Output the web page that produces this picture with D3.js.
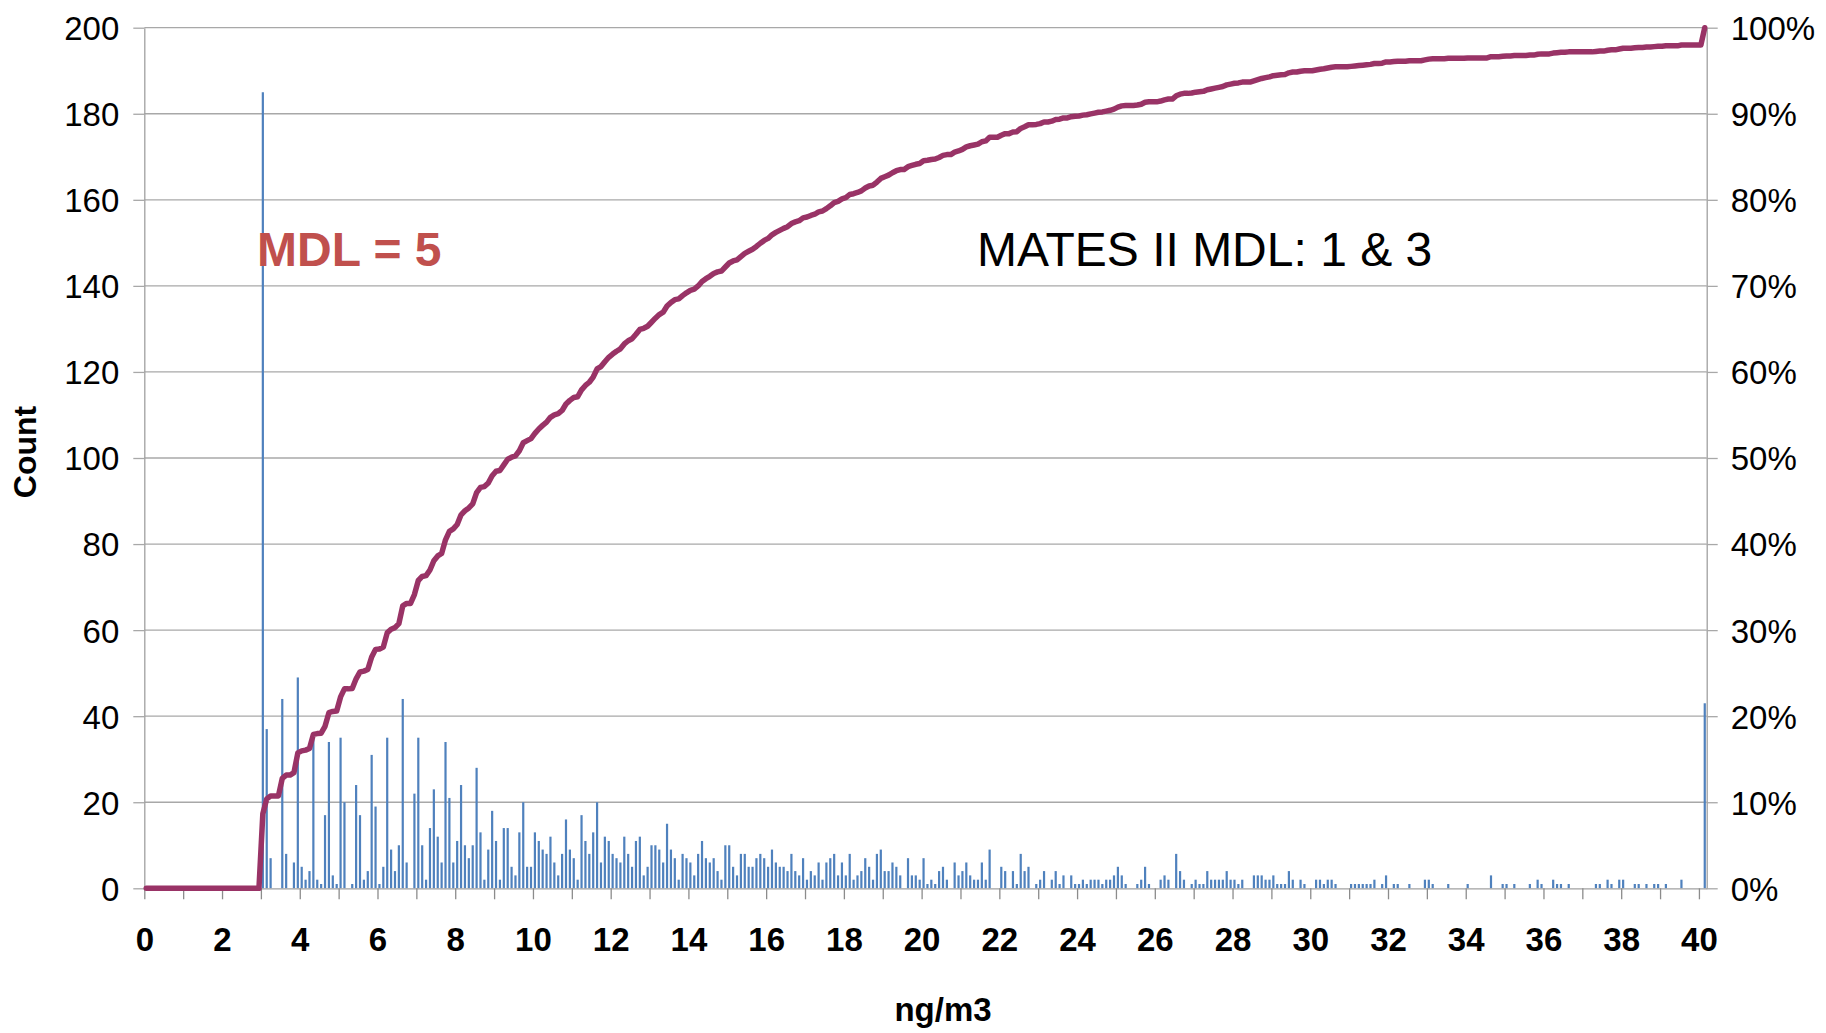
<!DOCTYPE html>
<html><head><meta charset="utf-8">
<script src="https://cdn.jsdelivr.net/npm/d3@7"></script>
<style>
body{margin:0;background:#fff}
svg{display:block}
text{font-family:"Liberation Sans",Arial,Helvetica,sans-serif}
</style>
</head><body>
<svg id="chart" width="1826" height="1033"></svg>
<script>
// Histogram bins (upper bounds, 0.1 ng/m3 wide) plus the overflow bin
const binLabels = d3.range(0, 401).map(i => (i / 10).toFixed(1)).concat(["More"]);

// Counts per bin
const counts = [
  0,0,0,0,0,0,0,0,0,0, 0,0,0,0,0,0,0,0,0,0, 0,0,0,0,0,0,0,0,0,0,
  185,37,7,0,0,44,8,0,6,49, 5,2,4,35,2,1,17,34,3,1,
  35,20,0,1,24,17,2,4,31,19, 1,5,35,9,4,10,44,6,0,22,
  35,10,2,14,23,12,6,34,21,6, 11,24,10,7,10,28,13,2,9,18,
  11,2,14,14,5,3,13,20,5,5, 13,11,9,8,12,6,3,8,16,9,
  7,2,17,11,8,13,20,6,12,11, 8,7,6,12,8,5,11,12,3,5,
  10,10,9,6,15,9,7,2,8,7, 6,3,8,11,7,6,7,4,2,10,
  10,5,3,8,8,5,5,7,8,7, 5,9,6,5,5,4,8,4,3,7,
  2,4,3,6,2,6,7,8,3,6, 3,8,2,3,4,7,5,2,8,9,
  4,4,6,5,3,0,7,3,3,2, 7,1,2,1,4,5,2,0,6,3,
  4,6,3,2,2,6,2,9,0,0, 5,4,0,4,1,8,4,5,0,1,
  2,4,0,2,4,1,3,0,3,1, 1,2,1,2,2,2,1,2,2,3,
  5,3,1,0,0,1,2,5,1,0, 0,2,3,2,0,8,4,2,0,1,
  2,1,1,4,2,2,2,2,4,2, 2,1,2,0,0,3,3,3,2,2,
  3,1,1,1,4,2,0,2,1,0, 0,2,2,1,2,2,1,0,0,0,
  1,1,1,1,1,1,2,0,1,3, 0,1,1,0,0,1,0,0,0,2,
  2,1,0,0,0,1,0,0,0,0, 1,0,0,0,0,0,3,0,0,1,
  1,0,1,0,0,0,1,0,2,1, 0,0,2,1,1,0,1,0,0,0,
  0,0,0,1,1,0,2,1,0,2, 2,0,0,1,1,0,1,0,1,1,
  0,1,0,0,0,2,0,0,0,0, 0,
  43
];

const xTickValues = d3.range(0, 41);
const xTickLabels = ["0","2","4","6","8","10","12","14","16","18","20","22","24","26","28","30","32","34","36","38","40"];
const yTicks = [0,20,40,60,80,100,120,140,160,180,200];
const pctTicks = [0,0.1,0.2,0.3,0.4,0.5,0.6,0.7,0.8,0.9,1.0];

const svg = d3.select("#chart");
const L = 144.3, R = 1706.7, T = 27.7, B = 888.3;

const x = d3.scaleBand().domain(binLabels).range([L, R]).padding(0);
const xVal = d3.scaleLinear().domain([0, binLabels.length / 10]).range([L, R]);
const y = d3.scaleLinear().domain([0, 200]).range([B, T]);
const yP = d3.scaleLinear().domain([0, 1]).range([B, T]);

const gridCol = "#A8A8A8", axisCol = "#A0A0A0", tickCol = "#8C8C8C";

// gridlines
svg.append("g").selectAll("line").data(yTicks.filter(d => d > 0)).join("line")
  .attr("x1", L).attr("x2", R).attr("y1", d => y(d)).attr("y2", d => y(d))
  .attr("stroke", gridCol).attr("stroke-width", 1.3);

// bars
const bw = 2.2;
svg.append("g").selectAll("rect").data(counts.map((c, i) => ({c, k: binLabels[i]})).filter(d => d.c > 0)).join("rect")
  .attr("x", d => x(d.k) + x.bandwidth() / 2 - bw / 2)
  .attr("width", bw)
  .attr("y", d => y(d.c))
  .attr("height", d => B - y(d.c))
  .attr("fill", "#4F81BD");

// axes
const yAxis = svg.append("g").attr("transform", `translate(${L},0)`)
  .call(d3.axisLeft(y).tickValues(yTicks).tickSize(11).tickSizeOuter(0).tickPadding(14));
const pAxis = svg.append("g").attr("transform", `translate(${R},0)`)
  .call(d3.axisRight(yP).tickValues(pctTicks).tickFormat(d3.format(".0%")).tickSize(11).tickSizeOuter(0).tickPadding(13));
const xAxis = svg.append("g").attr("transform", `translate(0,${B})`)
  .call(d3.axisBottom(xVal).tickValues(xTickValues).tickSize(11).tickSizeOuter(0).tickPadding(28)
    .tickFormat((d, i) => i % 2 === 0 ? xTickLabels[i / 2] : ""));

[yAxis, pAxis, xAxis].forEach(g => {
  g.select(".domain").attr("stroke", axisCol).attr("stroke-width", 1.3);
  g.selectAll(".tick line").attr("stroke", gridCol).attr("stroke-width", 1.3);
  g.selectAll("text").attr("fill", "#000").style("font-size", "33px");
});
xAxis.selectAll(".tick line").attr("stroke", tickCol);
xAxis.selectAll("text").style("font-weight", "bold");
yAxis.selectAll("text").attr("dy", "0.36em");
pAxis.selectAll("text").attr("dy", "0.36em");

// cumulative percentage line (Pareto), from the counts
const total = d3.sum(counts);
const cum = Array.from(d3.cumsum(counts));
const line = d3.line()
  .x((d, i) => x(binLabels[i]) + x.bandwidth() / 2)
  .y(d => yP(d / total));
svg.append("path").datum(cum).attr("d", line)
  .attr("fill", "none").attr("stroke", "#993366").attr("stroke-width", 5.5)
  .attr("stroke-linejoin", "round").attr("stroke-linecap", "round");

// annotations
svg.append("text").attr("x", 257).attr("y", 266)
  .attr("fill", "#C0504D").style("font-size", "48px").style("font-weight", "bold").text("MDL = 5");
svg.append("text").attr("x", 977).attr("y", 266)
  .attr("fill", "#000").style("font-size", "48px").text("MATES II MDL: 1 & 3");

// axis titles
svg.append("text").attr("transform", "translate(36,452) rotate(-90)")
  .attr("text-anchor", "middle").style("font-size", "32px").style("font-weight", "bold").text("Count");
svg.append("text").attr("x", 943).attr("y", 1021)
  .attr("text-anchor", "middle").style("font-size", "33px").style("font-weight", "bold").text("ng/m3");
</script>
</body></html>
